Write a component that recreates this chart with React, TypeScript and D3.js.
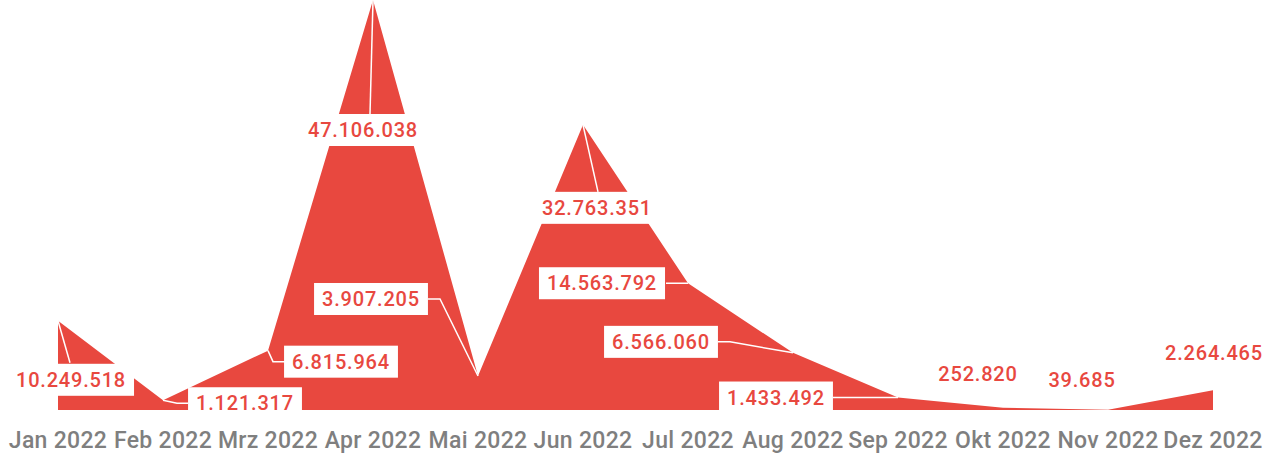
import { useEffect, useRef } from 'react'
import * as d3 from 'd3'

const months = ['Jan 2022', 'Feb 2022', 'Mrz 2022', 'Apr 2022', 'Mai 2022', 'Jun 2022', 'Jul 2022', 'Aug 2022', 'Sep 2022', 'Okt 2022', 'Nov 2022', 'Dez 2022']
const values = [10249518, 1121317, 6815964, 47106038, 3907205, 32763351, 14563792, 6566060, 1433492, 252820, 39685, 2264465]

// label placement relative to each data point: centre offset and leader polyline
const labelLayout: { dx: number; dy: number; leader: [number, number][] }[] = [
  { dx: 13, dy: 59, leader: [[0, 0], [12, 42]] },
  { dx: 82, dy: 3, leader: [[0, 0], [14, 3], [25, 3]] },
  { dx: 73, dy: 11, leader: [[0, 0], [5, 11], [17, 11]] },
  { dx: -10, dy: 130, leader: [[0, 0], [-3, 114]] },
  { dx: -107, dy: -77, leader: [[0, 0], [-38, -77], [-50, -77]] },
  { dx: 14, dy: 83, leader: [[0, 0], [15, 67]] },
  { dx: -86, dy: 0, leader: [[0, 0], [-22, 0]] },
  { dx: -132, dy: -11, leader: [[0, 0], [-63, -11], [-75, -11]] },
  { dx: -122, dy: 0, leader: [[0, 0], [-65, 0]] },
  { dx: -25, dy: -34, leader: [] },
  { dx: -26, dy: -30, leader: [] },
  { dx: 1, dy: -37, leader: [] },
]

const RED = '#e8483f'
const GRAY = '#7f7f7f'

const fmt = (v: number) => d3.format(',')(v).replace(/,/g, '.')

export default function App() {
  const ref = useRef<SVGSVGElement>(null)
  const width = 1269
  const height = 454

  useEffect(() => {
    if (!ref.current) return
    const svg = d3.select(ref.current)
    svg.selectAll('*').remove()

    const x = d3.scalePoint<string>().domain(months).range([58, 1213])
    const y = d3.scaleLinear().domain([0, d3.max(values) as number]).range([410, 0])

    const pts = months.map((m, i) => ({ m, v: values[i], px: x(m) as number, py: y(values[i]) }))

    const area = d3.area<typeof pts[number]>()
      .x(d => d.px)
      .y0(y(0))
      .y1(d => d.py)

    svg.append('path').datum(pts).attr('d', area).attr('fill', RED)

    // axis labels
    svg.append('g').selectAll('text').data(months).enter().append('text')
      .attr('x', d => x(d) as number)
      .attr('y', 448)
      .attr('text-anchor', 'middle')
      .attr('fill', GRAY)
      .style('font-family', 'Roboto, sans-serif')
      .style('font-weight', 500)
      .style('font-size', '23px')
      .style('letter-spacing', '0.3px')
      .text(d => d)

    const labels = svg.append('g')
    pts.forEach((p, i) => {
      const l = labelLayout[i]
      const cx = p.px + l.dx
      const cy = p.py + l.dy
      const g = labels.append('g')
      const rect = g.append('rect').attr('fill', 'white')
      const t = g.append('text')
        .attr('x', cx)
        .attr('y', cy)
        .attr('text-anchor', 'middle')
        .attr('dominant-baseline', 'central')
        .attr('fill', RED)
        .style('font-family', 'Roboto, sans-serif')
        .style('font-weight', 500)
        .style('font-size', '20px')
        .style('letter-spacing', '0.8px')
        .text(fmt(p.v))
      const bb = (t.node() as SVGTextElement).getBBox()
      const padX = 8
      const h = 32
      rect.attr('x', cx - bb.width / 2 - padX)
        .attr('y', cy - h / 2)
        .attr('width', bb.width + padX * 2)
        .attr('height', h)
      if (l.leader.length) {
        g.append('path')
          .attr('d', d3.line()(l.leader.map(([a, b]) => [p.px + a, p.py + b])))
          .attr('fill', 'none')
          .attr('stroke', 'white')
          .attr('stroke-width', 1.5)
      }
    })
  }, [])

  return (
    <svg
      ref={ref}
      width={width}
      height={height}
      style={{ position: 'absolute', left: 0, top: 0, background: 'white' }}
    />
  )
}
